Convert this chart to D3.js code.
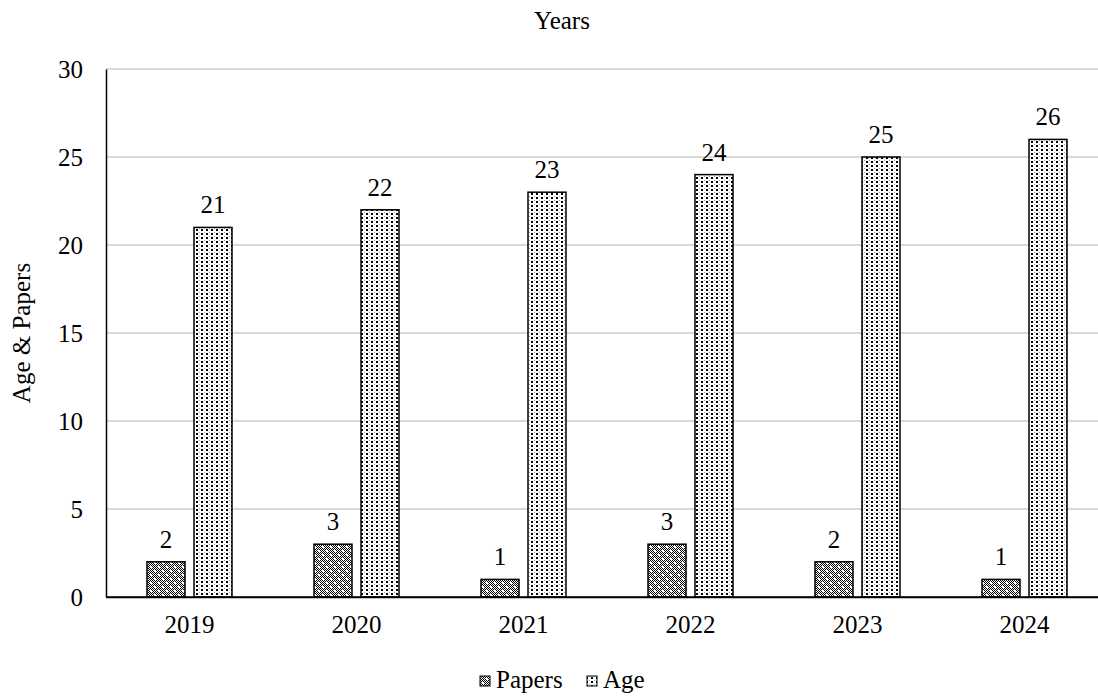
<!DOCTYPE html>
<html><head><meta charset="utf-8">
<script src="https://cdn.jsdelivr.net/npm/d3@7"></script>
<style>body{margin:0;background:#fff}svg{display:block}text{font-family:"Liberation Serif","Times New Roman",serif;fill:#000}</style>
</head><body>
<svg id="c" width="1098" height="696"></svg>
<script>
const years = ["2019","2020","2021","2022","2023","2024"];
const papers = [2,3,1,3,2,1];
const age = [21,22,23,24,25,26];
const yTicks = [0,5,10,15,20,25,30];
const seriesNames = ["Papers","Age"];

(function(){
const FS = 25;
const svg = d3.select("#c");
const defs = svg.append("defs");
// Papers pattern: dark checker with white spots
const p1 = defs.append("pattern").attr("id","pPapers").attr("patternUnits","userSpaceOnUse").attr("width",8).attr("height",8);
p1.append("rect").attr("width",8).attr("height",8).attr("fill","#fff");
for(let i=0;i<8;i++)for(let j=0;j<8;j++){ if((i+j)%2===0 || (i%2===1 && j%4===1)) p1.append("rect").attr("x",i).attr("y",j).attr("width",1).attr("height",1).attr("fill","#000"); }
p1.append("rect").attr("x",2).attr("y",2).attr("width",2).attr("height",2).attr("fill","#fff");
p1.append("rect").attr("x",6).attr("y",6).attr("width",2).attr("height",2).attr("fill","#fff");
// Age pattern: dots
const p2 = defs.append("pattern").attr("id","pAge").attr("patternUnits","userSpaceOnUse").attr("width",5).attr("height",4);
p2.append("rect").attr("width",5).attr("height",4).attr("fill","#fff");
p2.append("rect").attr("x",1).attr("y",1).attr("width",2).attr("height",2).attr("fill","#000");
p2.append("rect").attr("x",4).attr("y",0).attr("width",1).attr("height",1).attr("fill","#999");

const pl=106, pr=1108, pt=69, pb=597;
const x = d3.scaleBand().domain(years).range([pl,pr]);
const y = d3.scaleLinear().domain([0,30]).range([pb,pt]);
const barW = 38, gap = 9;

// gridlines
svg.append("g").selectAll("line").data(yTicks.filter(d=>d>0)).join("line")
  .attr("x1",pl).attr("x2",pr).attr("y1",d=>y(d)).attr("y2",d=>y(d))
  .attr("stroke","#d9d9d9").attr("stroke-width",2);

// y axis
const ya = svg.append("g").attr("transform",`translate(${pl},0)`)
  .call(d3.axisLeft(y).tickValues(yTicks).tickSize(0).tickPadding(23));
ya.select(".domain").attr("stroke","#000").attr("stroke-width",1.5);
ya.selectAll("text").attr("font-size",FS).attr("font-family","Liberation Serif");

// x axis
const xa = svg.append("g").attr("transform",`translate(0,${pb})`)
  .call(d3.axisBottom(x).tickSize(0).tickPadding(18));
xa.select(".domain").attr("stroke","#000").attr("stroke-width",1.5);
xa.selectAll("text").attr("font-size",FS).attr("font-family","Liberation Serif");

const series = [
  {name:"Papers", vals:papers, fill:"url(#pPapers)", off:-(gap/2+barW)},
  {name:"Age", vals:age, fill:"url(#pAge)", off:gap/2}
];
series.forEach(s=>{
  const g = svg.append("g");
  g.selectAll("rect").data(years).join("rect")
    .attr("x",(d)=>x(d)+x.bandwidth()/2+s.off)
    .attr("y",(d,i)=>y(s.vals[i]))
    .attr("width",barW)
    .attr("height",(d,i)=>y(0)-y(s.vals[i]))
    .attr("fill",s.fill).attr("stroke","#000").attr("stroke-width",1.5);
  g.selectAll("text").data(years).join("text")
    .attr("x",(d)=>x(d)+x.bandwidth()/2+s.off+barW/2)
    .attr("y",(d,i)=>y(s.vals[i])-14)
    .attr("text-anchor","middle").attr("font-size",FS)
    .text((d,i)=>s.vals[i]);
});
svg.append("line").attr("x1",pl).attr("x2",pr).attr("y1",pb).attr("y2",pb).attr("stroke","#000").attr("stroke-width",1.5);

// titles
svg.append("text").attr("x",562).attr("y",29).attr("text-anchor","middle").attr("font-size",FS).text("Years");
svg.append("text").attr("transform","translate(30,333) rotate(-90)").attr("text-anchor","middle").attr("font-size",FS).text("Age & Papers");

// legend
const legX = [480,587];
const lg = svg.append("g");
seriesNames.forEach((n,i)=>{
  lg.append("rect").attr("x",legX[i]).attr("y",676).attr("width",10).attr("height",10)
    .attr("fill",series[i].fill).attr("stroke","#000").attr("stroke-width",1);
  lg.append("text").attr("x",legX[i]+16).attr("y",688).attr("font-size",FS).text(n);
});
})();
</script>
</body></html>
